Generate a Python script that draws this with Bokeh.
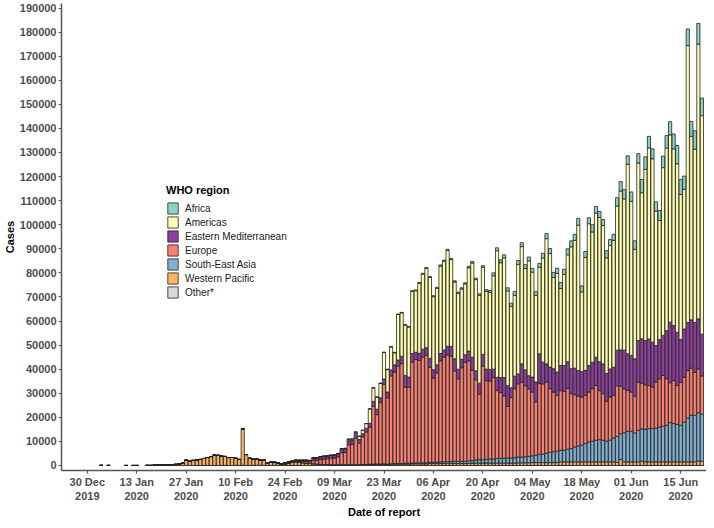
import pandas as pd
from bokeh.plotting import figure
from bokeh.models import (ColumnDataSource, FixedTicker, Legend, LegendItem,
                          Range1d, BasicTickFormatter)
from bokeh.embed import file_html
from bokeh.resources import INLINE

# ---------------- data (daily new cases by WHO region) ----------------
early_dates = ["2020-01-03", "2020-01-05", "2020-01-10", "2020-01-12", "2020-01-13"]
early_wpr = [44, 15, 1, 1, 1]

series_start = "2020-01-16"   # continuous daily reports from this date to 2020-06-21

wpr = [20, 20, 130, 140, 150, 150, 250, 300, 450, 700, 1000,
       2200, 1800, 2100, 2300, 2500, 2900, 3300, 3700, 4300, 4200, 3900, 3700, 3300, 3300, 2900, 2500, 15200,
       4500, 2900, 2500, 2500, 2200, 2100, 950, 1300, 1200, 800, 450, 600, 1000, 1300, 1500, 1300, 1100, 950, 800,
       700, 600, 500, 400, 400, 350, 300, 300, 300, 350, 300, 300, 300, 350, 400, 400, 400, 500, 500, 500, 500, 500,
       600, 600, 600, 600, 600, 600, 700, 700, 700, 700, 700,
       800, 800, 800, 800, 800, 800, 800, 800, 800, 800, 800, 900, 900,
       1000, 1000, 1000, 1000, 1000, 1000, 1000, 1000, 1000, 1000, 1000, 1000, 1100, 1100, 1100, 1100,
       1200, 1200, 1200, 1200, 1200, 1200, 1200, 1200,
       1500, 1500, 1500, 1500, 1500, 1500, 1500, 1500, 1500, 1500, 1500, 1500, 1500, 1500, 1500, 1500,
       1300, 2500, 1500, 1500, 1500, 1500, 1500, 1800, 1500, 1500, 1500, 1500, 1500, 1500, 1500, 1500,
       1500, 1500, 1500, 1500, 1500, 1500, 1500, 1900, 1700]

sear = [0] * 63 + [100, 100, 100, 100, 200, 100, 100, 200, 200, 200, 300, 300, 300, 300, 400, 400, 400,
       500, 500, 600, 700, 700, 800, 800, 900, 900, 1000, 1000, 1100, 1100, 1300, 1400, 1400, 1600, 1700,
       1700, 1900, 2000, 2000, 2100, 2100, 2200, 2400, 2400, 2500, 2700, 2800, 3100, 3400, 3600, 3900, 4200,
       4500, 4700,
       4800, 4800, 5200, 5500, 6200, 6600, 6900, 7600, 8300, 8600, 9000, 9200, 9000, 8600, 9000, 9900,
       10800, 10700, 12100, 12700, 12700, 12000, 13100, 13400, 13500, 13800, 13800, 14100, 14500, 14800,
       15200, 16300, 15900, 15600, 15200, 16600, 18200, 19300, 19300, 20000, 19600]

eur = [0] * 34 + [0, 50, 150, 250, 250, 350, 280, 330, 380, 450, 550, 650, 700,
       1300, 1500, 1900, 2200, 2400, 2700, 2800, 3300, 5000, 5000, 8300, 8500, 11000, 9000, 11500, 13500,
       15500, 24000, 20500, 25500, 33000, 27500, 36500, 38000, 40500, 41500, 31700, 31700, 42000, 43000,
       42500, 43900, 44600,
       39500, 35000, 37000, 42000, 43500, 44300, 43800, 37600, 34300, 38800, 41000, 41500, 37500, 33300,
       27200, 38900, 32600, 32400, 33800, 28200, 27300, 25900, 21400, 25100, 28700, 30400, 31100, 29500,
       28000, 26500, 22100, 29400, 29100, 29500, 26500, 24800, 23200,
       24800, 24400, 25400, 22800, 21700, 20700, 20000, 20000, 20700, 21800, 22800, 20400, 19300, 16600,
       17900, 17700, 21000, 19600, 18200, 17000, 16300, 15300, 20000, 19000, 18500, 17900, 17300, 19000,
       20000, 21100, 19300, 16600, 17900, 16100, 17900, 18600, 19700, 19600, 17900, 18200, 15900]

emr = [0] * 34 + [0, 50, 100, 150, 100, 250, 200, 250, 300, 400, 500, 550, 550,
       1100, 1000, 1200, 1200, 1150, 1100, 1100, 1200, 1300, 1300, 1700, 1600, 2000, 1400, 1300, 1600,
       1500, 2000, 2300, 2000, 2200, 2400, 2500, 3000, 2500, 3000, 4800, 4100, 3500, 3000, 3000, 3300, 3200,
       3600, 3500, 3400, 3000, 3000, 3600, 4000, 5000, 4000, 3500, 3200, 4000, 5500, 3700, 4600, 4800,
       4800, 4800, 3500, 5500, 6200, 7600, 8600, 4100, 5200, 4100, 7600, 6600, 5500, 6200, 8300, 12400,
       9000, 7600, 9000, 9700, 9700,
       10400, 10800, 11000, 10400, 11000, 10600, 10600, 10400, 11000, 11000, 11700, 12000, 12400, 11500,
       11700, 11700, 14800, 15200, 16100, 15200, 15200, 15500, 17300, 18400, 18400, 19300, 18600, 15200,
       16300, 16600, 20000, 25100, 22800, 22100, 17700, 20000, 20000, 20100, 20700, 20800, 17300]

amr = [0] * 40 + [20, 20, 20, 50, 50, 50, 50,
       100, 100, 100, 100, 150, 150, 200, 200, 400, 450, 600, 600, 600, 1400, 1400, 1900,
       6000, 5600, 5000, 6000, 11000, 9300, 9500, 5000, 18900, 18100, 20900, 20800, 25800, 25600, 29100,
       31200, 33000,
       33700, 30300, 31800, 36300, 36800, 39800, 36100, 31900, 31500, 29200, 29400, 34600, 39100, 37900,
       36500, 36200, 32300, 32000, 38800, 52600, 47700, 49700, 39400, 33800, 33600, 45500, 48700, 42100,
       47700, 43600, 35900, 35900, 43300, 52000, 47100, 37900, 41000,
       32000, 37900, 44400, 50600, 53100, 60400, 33100, 46900, 58900, 54100, 59800, 59900, 57500, 48000,
       51300, 52700, 59800, 66000, 62800, 78700, 64000, 45500, 73700, 60700, 71100, 79400, 76200, 55800,
       49500, 69700, 75800, 77800, 73400, 70000, 60300, 58000, 115000, 76200, 72000, 114100, 90800]

afr = [0] * 64 + [100, 100, 100, 200, 200, 200, 200, 200, 200, 200, 300, 300, 300, 300, 300, 300,
       400, 400, 400, 500, 500, 500, 500, 500, 500, 500, 500, 600, 600, 600, 600, 700, 700, 800,
       1200, 1200, 1200, 1300, 1300, 1300, 1600, 1600, 1600, 1600, 1600, 1600, 1600, 1600, 1900, 2100,
       2100, 2100, 2100,
       2500, 2100, 2500, 2500, 2500, 2800, 2500, 2500, 2500, 3000, 2800, 2500, 2500, 3000, 2500, 2500,
       3500, 3900, 3900, 3500, 3900, 3500, 3900, 5500, 5200, 4800, 4100, 3900, 4100, 4800, 5200, 5500,
       6200, 7600, 6200, 5500, 6900, 6200, 7600, 8600, 7300]

other = [0] * 21 + [10, 41, 3, 6, 64, 0, 66, 40, 67, 70, 99, 88, 79, 13] + [0] * 123

# ---------------- assemble ----------------
n = len(wpr)
dates = list(pd.to_datetime(early_dates)) + list(pd.date_range(series_start, periods=n, freq="D"))
k = len(early_dates)
df = pd.DataFrame({
    "date": dates,
    "wpr": early_wpr + wpr,
    "sear": [0] * k + sear,
    "eur": [0] * k + eur,
    "emr": [0] * k + emr,
    "amr": [0] * k + amr,
    "afr": [0] * k + afr,
    "oth": [0] * k + other,
})
source = ColumnDataSource(df)

stack_keys = ["oth", "wpr", "sear", "eur", "emr", "amr", "afr"]          # bottom -> top
stack_colors = ["#D9D9D9", "#FDB462", "#80B1D3", "#FB8072", "#8F3F9E", "#FFFFB3", "#8DD3C7"]
legend_order = [("Africa", "afr"), ("Americas", "amr"), ("Eastern Mediterranean", "emr"),
                ("Europe", "eur"), ("South-East Asia", "sear"), ("Western Pacific", "wpr"),
                ("Other*", "oth")]

DAY = 86400000
origin = pd.Timestamp("2019-12-30").value // 10**6
tick_dates = ["2019-12-30", "2020-01-13", "2020-01-27", "2020-02-10", "2020-02-24", "2020-03-09",
              "2020-03-23", "2020-04-06", "2020-04-20", "2020-05-04", "2020-05-18", "2020-06-01",
              "2020-06-15"]
tick_labels = ["30 Dec\n2019", "13 Jan\n2020", "27 Jan\n2020", "10 Feb\n2020", "24 Feb\n2020",
               "09 Mar\n2020", "23 Mar\n2020", "06 Apr\n2020", "20 Apr\n2020", "04 May\n2020",
               "18 May\n2020", "01 Jun\n2020", "15 Jun\n2020"]
tick_ms = [pd.Timestamp(t).value // 10**6 for t in tick_dates]
y_ticks = list(range(0, 190001, 10000))

p = figure(width=706, height=520, x_axis_type="datetime", output_backend="svg",
           toolbar_location=None,
           x_range=Range1d(origin - 7.3 * DAY, origin + 175.3 * DAY),
           y_range=Range1d(-2090, 191880),
           min_border_left=10, min_border_right=0, min_border_top=3, min_border_bottom=0)

renderers = p.vbar_stack(stack_keys, x="date", width=0.9 * DAY, color=stack_colors,
                         line_color="#222222", line_width=0.8, source=source)
rmap = dict(zip(stack_keys, renderers))

# axes styling (theme_classic look)
p.xgrid.grid_line_color = None
p.ygrid.grid_line_color = None
p.outline_line_color = None
p.background_fill_color = "white"

for ax in (p.xaxis[0], p.yaxis[0]):
    ax.axis_line_color = "#555555"
    ax.axis_line_width = 1.5
    ax.major_tick_line_color = "#555555"
    ax.major_tick_line_width = 1.2
    ax.major_tick_out = 3
    ax.major_tick_in = 0
    ax.minor_tick_line_color = None
    ax.major_label_text_font = "Liberation Sans"
    ax.major_label_text_font_style = "bold"
    ax.major_label_text_font_size = "11px"
    ax.major_label_text_color = "#4D4D4D"
    ax.major_label_standoff = 2
    ax.axis_label_text_font = "Liberation Sans"
    ax.axis_label_text_font_style = "bold"
    ax.axis_label_text_font_size = "11px"
    ax.axis_label_text_color = "black"
    ax.axis_label_standoff = 1

p.xaxis.ticker = FixedTicker(ticks=tick_ms)
p.xaxis.major_label_overrides = dict(zip(tick_ms, tick_labels))
p.xaxis.axis_label = "Date of report"
p.yaxis.ticker = FixedTicker(ticks=y_ticks)
p.yaxis.formatter = BasicTickFormatter(use_scientific=False)
p.yaxis.axis_label = "Cases"

legend = Legend(items=[LegendItem(label=lab, renderers=[rmap[key]]) for lab, key in legend_order],
                location=(105, 171), title="WHO region",
                title_text_font="Liberation Sans", title_text_font_style="bold",
                title_text_font_size="11px", title_text_color="black", title_standoff=5,
                label_text_font="Liberation Sans", label_text_font_size="10px",
                label_text_color="#1A1A1A", label_standoff=6,
                glyph_width=13, glyph_height=14, label_height=14, spacing=0,
                padding=0, margin=0, background_fill_alpha=0, border_line_color=None)
p.add_layout(legend)

open("out.html", "w").write(file_html(p, INLINE))
